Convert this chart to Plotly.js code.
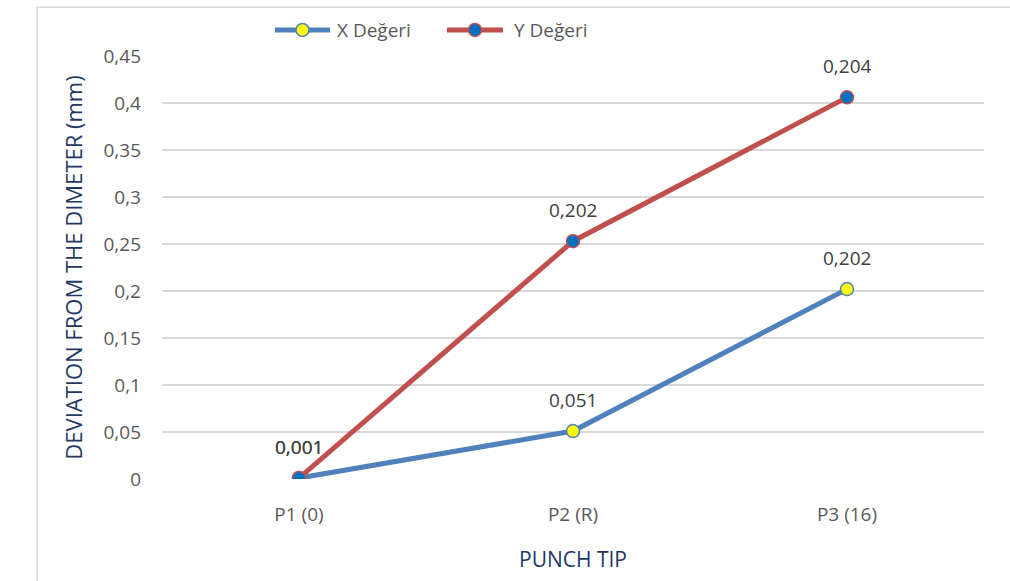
<!DOCTYPE html>
<html><head><meta charset="utf-8">
<script src="https://cdn.plot.ly/plotly-3.0.1.min.js"></script>
<style>html,body{margin:0;padding:0;background:#fff;}#chart{width:1010px;height:581px;}</style>
</head><body><div id="chart"></div>
<script>
const categories = ["P1 (0)", "P2 (R)", "P3 (16)"];
const xValues = [0.001, 0.051, 0.202];
const yValues = [0.001, 0.253, 0.406];
const xLabels = ["0,001", "0,051", "0,202"];
const yLabels = ["0,001", "0,202", "0,204"];
const seriesNames = ["X Değeri", "Y Değeri"];
const tickVals = [0, 0.05, 0.1, 0.15, 0.2, 0.25, 0.3, 0.35, 0.4, 0.45];
const tickText = ["0", "0,05", "0,1", "0,15", "0,2", "0,25", "0,3", "0,35", "0,4", "0,45"];

const fontFam = "'Open Sans', sans-serif";
const styles = [
  {line: "#4F81BD", fill: "#FFFF00"},
  {line: "#C0504D", fill: "#0070C0"}
];
const seriesVals = [xValues, yValues];
const seriesLabs = [xLabels, yLabels];

const traces = seriesVals.map((vals, k) => ({
  x: categories, y: vals, name: seriesNames[k], type: "scatter", mode: "lines+markers",
  line: {color: styles[k].line, width: 5},
  marker: {color: styles[k].fill, size: 13, line: {color: styles[k].line, width: 1.5}}
}));

const annotations = [];
seriesVals.forEach((vals, k) => {
  vals.forEach((v, i) => annotations.push({x: categories[i], y: v, text: seriesLabs[k][i], showarrow: false,
    yshift: 31, font: {family: fontFam, size: 19, color: "#404040"}}));
});

// custom legend (paper coords of the plot area 162..984 x 56..479)
const legY = 1.0615;
const legItems = [{x0: 0.1375, x1: 0.2044, tx: 0.2105}, {x0: 0.3467, x1: 0.4148, tx: 0.4258}];
const shapes = [{type: "rect", xref: "paper", yref: "paper", x0: -0.152, x1: 1.1, y0: -0.35, y1: 1.115,
  line: {color: "#D9D9D9", width: 1.5}}];
legItems.forEach((it, k) => {
  shapes.push({type: "line", xref: "paper", yref: "paper", x0: it.x0, x1: it.x1, y0: legY, y1: legY,
    line: {color: styles[k].line, width: 5}});
  const cx = (it.x0 + it.x1) / 2;
  shapes.push({type: "circle", xref: "paper", yref: "paper", xsizemode: "pixel", ysizemode: "pixel",
    xanchor: cx, yanchor: legY, x0: -6.5, x1: 6.5, y0: -6.5, y1: 6.5,
    fillcolor: styles[k].fill, line: {color: styles[k].line, width: 1.5}});
  annotations.push({xref: "paper", yref: "paper", x: it.tx, y: legY, xanchor: "left", yanchor: "middle",
    text: seriesNames[k], showarrow: false, font: {family: fontFam, size: 19, color: "#595959"}});
});

const layout = {
  width: 1010, height: 581,
  margin: {l: 162, r: 26, t: 56, b: 102},
  paper_bgcolor: "#fff", plot_bgcolor: "#fff",
  font: {family: fontFam, color: "#595959", size: 18},
  showlegend: false,
  annotations: annotations,
  shapes: shapes,
  xaxis: {type: "category", showgrid: false, zeroline: false, showline: false, ticks: "", tickfont: {size: 19, color: "#595959"},
    range: [-0.5, 2.5], ticklabelstandoff: 22,
    title: {text: "PUNCH TIP", font: {size: 21, color: "#1F3864"}, standoff: 26}},
  yaxis: {range: [0, 0.45], tickvals: tickVals, ticktext: tickText, showgrid: true, gridcolor: "#D9D9D9", gridwidth: 1.5,
    zeroline: false, showline: false, ticks: "", tickfont: {size: 19, color: "#595959"}, ticklabelstandoff: 20,
    title: {text: "DEVIATION FROM THE DIMETER (mm)", font: {size: 22, color: "#1F3864"}, standoff: 14}}
};
Plotly.newPlot("chart", traces, layout, {displayModeBar: false});
</script></body></html>
